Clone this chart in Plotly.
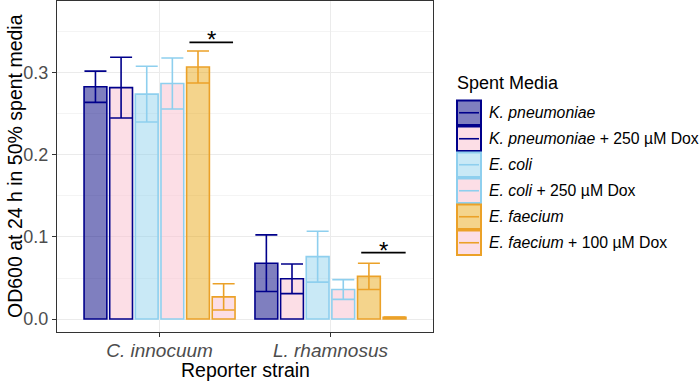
import plotly.graph_objects as go

# ---------------- data ----------------
strains = ["C. innocuum", "L. rhamnosus"]
strain_labels = ["<i>C. innocuum</i>", "<i>L. rhamnosus</i>"]

series_names = [
    "<i>K. pneumoniae</i>",
    "<i>K. pneumoniae</i> + 250 µM Dox",
    "<i>E. coli</i>",
    "<i>E. coli</i> + 250 µM Dox",
    "<i>E. faecium</i>",
    "<i>E. faecium</i> + 100 µM Dox",
]
kp_mean = [0.283, 0.068]
kp_sd = [0.019, 0.0345]
kpdox_mean = [0.282, 0.049]
kpdox_sd = [0.037, 0.018]
ec_mean = [0.274, 0.076]
ec_sd = [0.034, 0.031]
ecdox_mean = [0.287, 0.036]
ecdox_sd = [0.031, 0.012]
ef_mean = [0.307, 0.052]
ef_sd = [0.0195, 0.016]
efdox_mean = [0.027, 0.002]
efdox_sd = [0.016, 0.0003]

means = [kp_mean, kpdox_mean, ec_mean, ecdox_mean, ef_mean, efdox_mean]
sds = [kp_sd, kpdox_sd, ec_sd, ecdox_sd, ef_sd, efdox_sd]

fills = ["rgba(0,0,128,0.5)", "rgba(250,190,205,0.5)", "rgba(135,206,235,0.45)",
         "rgba(250,190,205,0.5)", "rgba(230,159,0,0.45)", "rgba(250,190,205,0.5)"]
outlines = ["#00008B", "#00008B", "#8ECFEE", "#8ECFEE", "#EBA128", "#EBA128"]

# significance brackets: (x start, x end as category positions, y of line, y of star)
sig_x0 = [0.175, 1.18]
sig_x1 = [0.43, 1.44]
sig_y = [0.337, 0.081]
sig_star_y = [0.3476, 0.0912]

# ---------------- figure ----------------
FONT = "Liberation Sans, Arial, sans-serif"
L, R, T, B = 57, 267, 1, 50
W, H = 700, 382
PW, PH = W - L - R, H - T - B

def xp(px):
    return (px - L) / PW

def yp(py):
    return (H - B - py) / PH

fig = go.Figure()
for name, m, s, fc, lc in zip(series_names, means, sds, fills, outlines):
    fig.add_trace(go.Bar(
        x=strains, y=m, name=name,
        marker=dict(color=fc, line=dict(color=lc, width=1.6)),
        error_y=dict(type="data", array=s, visible=True, color=lc,
                     thickness=1.6, width=11),
        showlegend=False,
    ))

shapes = []
annotations = []
for x0, x1, y, ys in zip(sig_x0, sig_x1, sig_y, sig_star_y):
    shapes.append(dict(type="line", xref="x", yref="y", x0=x0, x1=x1, y0=y, y1=y,
                       line=dict(color="black", width=1.8)))
    annotations.append(dict(xref="x", yref="y", x=(x0 + x1) / 2, y=ys, text="*",
                            showarrow=False, yanchor="middle", xanchor="center",
                            yshift=-6, font=dict(family=FONT, size=24, color="black")))

# axis titles
annotations.append(dict(xref="paper", yref="paper", x=xp(245), y=yp(370), text="Reporter strain",
                        showarrow=False, xanchor="center", yanchor="middle",
                        font=dict(family=FONT, size=19.5, color="black")))
annotations.append(dict(xref="paper", yref="paper", x=xp(15), y=yp(166),
                        text="OD600 at 24 h in 50% spent media", textangle=-90,
                        showarrow=False, xanchor="center", yanchor="middle",
                        font=dict(family=FONT, size=19.5, color="black")))

# manual legend (ggplot-style keys)
annotations.append(dict(xref="paper", yref="paper", x=xp(455), y=yp(83), text="Spent Media",
                        showarrow=False, xanchor="left", yanchor="middle",
                        font=dict(family=FONT, size=18, color="black")))
for i, (name, fc, lc) in enumerate(zip(series_names, fills, outlines)):
    top = 100.5 + 26 * i
    bot = top + 24.5
    shapes.append(dict(type="rect", xref="paper", yref="paper",
                       x0=xp(457), x1=xp(481), y0=yp(bot), y1=yp(top),
                       fillcolor=fc, line=dict(color=lc, width=2)))
    mid = (top + bot) / 2
    shapes.append(dict(type="line", xref="paper", yref="paper",
                       x0=xp(459), x1=xp(479), y0=yp(mid), y1=yp(mid),
                       line=dict(color=lc, width=1.6)))
    annotations.append(dict(xref="paper", yref="paper", x=xp(487), y=yp(mid), text=name,
                            showarrow=False, xanchor="left", yanchor="middle",
                            font=dict(family=FONT, size=15.8, color="black")))

fig.update_layout(
    width=W, height=H,
    margin=dict(l=L, r=R, t=T, b=B, autoexpand=False),
    paper_bgcolor="white", plot_bgcolor="white",
    barmode="group", bargap=0.1, bargroupgap=0.111,
    font=dict(family=FONT, color="black"),
    shapes=shapes, annotations=annotations,
    showlegend=False,
)
fig.update_xaxes(
    type="category", range=[-0.6, 1.6],
    tickvals=strains, ticktext=strain_labels,
    tickfont=dict(family=FONT, size=19, color="#4D4D4D"),
    ticks="outside", ticklen=4, tickcolor="#333333", tickwidth=1,
    ticklabelstandoff=-3,
    showgrid=True, gridcolor="#EBEBEB", gridwidth=1.1,
    showline=True, mirror=True, linecolor="#333333", linewidth=1,
    zeroline=False, automargin=False,
)
fig.update_yaxes(
    range=[-0.0158, 0.3875], tick0=0, dtick=0.1, tickformat=".1f",
    tickfont=dict(family=FONT, size=18, color="#4D4D4D"),
    ticks="outside", ticklen=4, tickcolor="#333333", tickwidth=1,
    showgrid=True, gridcolor="#EBEBEB", gridwidth=1.1,
    minor=dict(dtick=0.05, showgrid=True, gridcolor="#F4F4F4", gridwidth=0.6, ticks=""),
    showline=True, mirror=True, linecolor="#333333", linewidth=1,
    zeroline=False, automargin=False,
)

fig.write_html("out.html", config={"displayModeBar": False},
               post_script="document.body.style.margin='0';")
